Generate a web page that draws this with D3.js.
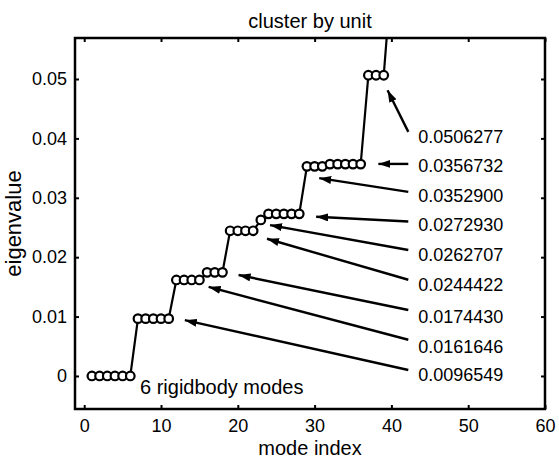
<!DOCTYPE html>
<html>
<head>
<meta charset="utf-8">
<script src="https://cdn.jsdelivr.net/npm/d3@7"></script>
<style>
  body { margin: 0; background: #fff; }
  text { font-family: "Liberation Sans", Arial, sans-serif; }
</style>
</head>
<body>
<svg id="chart" width="559" height="461"></svg>
<script>
// mode index vs eigenvalue
var modeIndex = [1, 2, 3, 4, 5, 6, 7, 8, 9, 10, 11, 12, 13, 14, 15, 16, 17, 18, 19, 20,
                 21, 22, 23, 24, 25, 26, 27, 28, 29, 30, 31, 32, 33, 34, 35, 36, 37, 38, 39, 40];
var eigenvalue = [0, 0, 0, 0, 0, 0,
                  0.0096549, 0.0096549, 0.0096549, 0.0096549, 0.0096549,
                  0.0161646, 0.0161646, 0.0161646, 0.0161646,
                  0.0174430, 0.0174430, 0.0174430,
                  0.0244422, 0.0244422, 0.0244422, 0.0244422,
                  0.0262707,
                  0.0272930, 0.0272930, 0.0272930, 0.0272930, 0.0272930,
                  0.0352900, 0.0352900, 0.0352900,
                  0.0356732, 0.0356732, 0.0356732, 0.0356732, 0.0356732,
                  0.0506277, 0.0506277, 0.0506277,
                  0.067];

var xTicks = [0, 10, 20, 30, 40, 50, 60];
var yTicks = [0, 0.01, 0.02, 0.03, 0.04, 0.05];

// annotation labels, label anchor, arrow tail and arrow tip (data units)
var annoText  = ["0.0506277", "0.0356732", "0.0352900", "0.0272930", "0.0262707",
                 "0.0244422", "0.0174430", "0.0161646", "0.0096549"];
var annoLabelX = [43.5, 43.5, 43.5, 43.5, 43.5, 43.5, 43.5, 43.5, 43.5];
var annoLabelY = [0.0403, 0.0354, 0.0304, 0.0254, 0.0204, 0.0153, 0.0100, 0.0050, 0.0002];
var tailX = [42.2, 42.2, 42.2, 42.2, 42.2, 42.2, 42.2, 42.2, 42.2];
var tailY = [0.0411, 0.0357, 0.0310, 0.0260, 0.0212, 0.0162, 0.0111, 0.0061, 0.0010];
var tipX  = [39.5, 38.3, 30.6, 30.2, 24.2, 23.8, 20.1, 16.2, 13.1];
var tipY  = [0.0481, 0.0357, 0.0333, 0.0268, 0.0254, 0.0231, 0.0170, 0.0150, 0.0094];

var W = 559, H = 461;
var margin = {top: 38, right: 14, bottom: 52, left: 75};
var w = W - margin.left - margin.right,
    h = H - margin.top - margin.bottom;

var svg = d3.select("#chart");
var g = svg.append("g").attr("transform", "translate(" + margin.left + "," + margin.top + ")");

var x = d3.scaleLinear().domain([-1.2, 60]).range([0, w]);
var y = d3.scaleLinear().domain([-0.00556, 0.0569]).range([h, 0]);

var fs = 18,    // tick + annotation numbers
    fsL = 20;   // title, axis labels, free text

svg.append("defs").append("clipPath").attr("id", "clip")
  .append("rect").attr("width", w).attr("height", h);

svg.select("defs").append("marker")
  .attr("id", "head")
  .attr("viewBox", "0 0 12 8")
  .attr("refX", 12).attr("refY", 4)
  .attr("markerWidth", 12).attr("markerHeight", 8)
  .attr("markerUnits", "userSpaceOnUse")
  .attr("orient", "auto")
  .append("path").attr("d", "M0,0 L12,4 L0,8 Z").attr("fill", "#000");

// axes (ticks pointing inward, on all four sides)
var xAxisB = d3.axisBottom(x).tickValues(xTicks).tickSizeInner(-4).tickSizeOuter(0).tickPadding(10);
var xAxisT = d3.axisTop(x).tickValues(xTicks).tickSizeInner(-4).tickSizeOuter(0).tickFormat("");
var yFmt = function(d) { return d === 0 ? "0" : d3.format(".2f")(d); };
var yAxisL = d3.axisLeft(y).tickValues(yTicks).tickSizeInner(-4).tickSizeOuter(0).tickPadding(8).tickFormat(yFmt);
var yAxisR = d3.axisRight(y).tickValues(yTicks).tickSizeInner(-4).tickSizeOuter(0).tickFormat("");

function styleAxis(sel) {
  sel.select(".domain").remove();
  sel.selectAll(".tick line").attr("stroke", "#000").attr("stroke-width", 2);
  sel.selectAll(".tick text").attr("fill", "#000").style("font-size", fs + "px");
}

g.append("g").attr("transform", "translate(0," + h + ")").call(xAxisB).call(styleAxis);
g.append("g").call(xAxisT).call(styleAxis);
g.append("g").call(yAxisL).call(styleAxis);
g.append("g").attr("transform", "translate(" + w + ",0)").call(yAxisR).call(styleAxis);

g.append("rect")
  .attr("width", w).attr("height", h)
  .attr("fill", "none").attr("stroke", "#000").attr("stroke-width", 2.5);

// data
var pts = modeIndex.map(function(d, i) { return [d, eigenvalue[i]]; });
var plot = g.append("g").attr("clip-path", "url(#clip)");

plot.append("path")
  .datum(pts)
  .attr("fill", "none").attr("stroke", "#000").attr("stroke-width", 2.2)
  .attr("d", d3.line().x(function(d) { return x(d[0]); }).y(function(d) { return y(d[1]); }));

plot.selectAll(".pt")
  .data(pts)
  .enter().append("circle")
  .attr("class", "pt")
  .attr("cx", function(d) { return x(d[0]); })
  .attr("cy", function(d) { return y(d[1]); })
  .attr("r", 4.3)
  .attr("fill", "#fff").attr("stroke", "#000").attr("stroke-width", 2.2);

// arrows + labels
g.selectAll(".arrow")
  .data(annoText)
  .enter().append("line")
  .attr("class", "arrow")
  .attr("x1", function(d, i) { return x(tailX[i]); })
  .attr("y1", function(d, i) { return y(tailY[i]); })
  .attr("x2", function(d, i) { return x(tipX[i]); })
  .attr("y2", function(d, i) { return y(tipY[i]); })
  .attr("stroke", "#000").attr("stroke-width", 2.4)
  .attr("marker-end", "url(#head)");

g.selectAll(".anno")
  .data(annoText)
  .enter().append("text")
  .attr("class", "anno")
  .attr("x", function(d, i) { return x(annoLabelX[i]); })
  .attr("y", function(d, i) { return y(annoLabelY[i]); })
  .attr("dy", "0.35em")
  .style("font-size", fs + "px")
  .text(function(d) { return d; });

g.append("text")
  .attr("x", x(7.26)).attr("y", y(-0.00185))
  .attr("dy", "0.35em")
  .style("font-size", fsL + "px")
  .text("6 rigidbody modes");

// titles
g.append("text")
  .attr("x", w / 2).attr("y", -10)
  .attr("text-anchor", "middle")
  .style("font-size", fsL + "px")
  .text("cluster by unit");

g.append("text")
  .attr("x", w / 2).attr("y", h + 46)
  .attr("text-anchor", "middle")
  .style("font-size", fsL + "px")
  .text("mode index");

g.append("text")
  .attr("transform", "translate(" + (-54) + "," + (h / 2) + ") rotate(-90)")
  .attr("text-anchor", "middle")
  .style("font-size", "22px")
  .text("eigenvalue");
</script>
</body>
</html>
